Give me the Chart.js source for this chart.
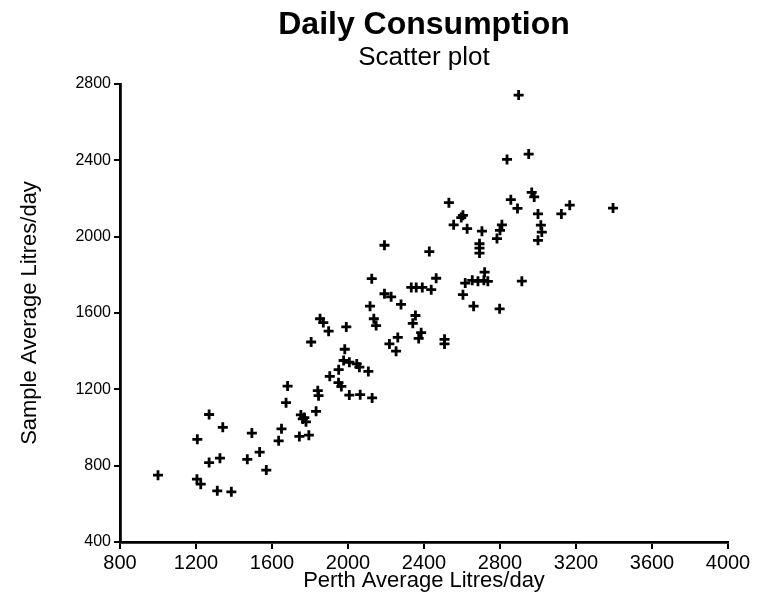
<!DOCTYPE html>
<html>
<head>
<meta charset="utf-8">
<script src="https://cdn.jsdelivr.net/npm/chart.js@4/dist/chart.umd.min.js"></script>
<style>
  html, body { margin: 0; padding: 0; background: #ffffff; }
  #wrap { width: 760px; height: 605px; }
</style>
</head>
<body>
<div id="wrap"><canvas id="c" width="760" height="605"></canvas></div>
<script>
const chartTitle = "Daily Consumption";
const chartSubtitle = "Scatter plot";
const xAxisTitle = "Perth Average Litres/day";
const yAxisTitle = "Sample Average Litres/day";

const xTickLabels = [800, 1200, 1600, 2000, 2400, 2800, 3200, 3600, 4000];
const yTickLabels = [400, 800, 1200, 1600, 2000, 2400, 2800];

const perthAverage = [
  1000,1207,1205,1225,1269,1269,1312,1326,1341,1386,
  1470,1494,1535,1570,1635,1650,1674,1682,1744,1794,
  1752,1770,1779,1762,1832,1841,1845,1806,1853,1870,
  1898,1904,1951,1950,1965,1983,1991,1977,2007,2046,
  2060,2107,2007,2064,2127,2116,2125,2136,2148,2192,
  2192,2227,2218,2253,2262,2279,2333,2359,2391,2438,
  2464,2355,2341,2385,2372,2428,2508,2508,2531,2556,
  2605,2596,2627,2605,2617,2654,2661,2684,2692,2692,
  2692,2705,2715,2719,2736,2784,2800,2810,2798,2837,
  2857,2892,2898,2915,2951,2967,2980,3000,3015,3020,
  3000,3123,3167,3395
];
const sampleAverage = [
  750,938,729,703,1068,816,668,839,1001,663,
  833,971,871,777,930,993,1130,1217,953,960,
  1066,1052,1030,1045,1085,1193,1167,1448,1570,1550,
  1505,1268,1303,1235,1215,1410,1527,1351,1342,1333,
  1316,1294,1170,1172,1155,1636,1780,1570,1534,1955,
  1701,1685,1438,1400,1472,1645,1734,1734,1734,1722,
  1782,1587,1546,1497,1467,1922,1462,1438,2178,2062,
  2112,2100,2042,1696,1757,1771,1636,1766,1963,1940,
  1914,2029,1771,1814,1766,1990,2033,2062,1622,2405,
  2194,2148,2742,1767,2433,2232,2208,2119,2060,2024,
  1981,2119,2165,2150
];

const points = perthAverage.map((x, i) => ({ x: x, y: sampleAverage[i] }));
const FONT = "'Liberation Sans', Arial, Helvetica, sans-serif";

new Chart(document.getElementById('c'), {
  type: 'scatter',
  data: {
    datasets: [{
      label: 'Daily consumption',
      data: points,
      pointStyle: 'cross',
      pointRadius: 5,
      pointHoverRadius: 5,
      pointBorderWidth: 2.8,
      borderColor: '#000000',
      backgroundColor: '#000000'
    }]
  },
  options: {
    responsive: false,
    animation: false,
    devicePixelRatio: 1,
    layout: { padding: { left: 0, right: 32, top: 0, bottom: 0 } },
    plugins: {
      legend: { display: false },
      tooltip: { enabled: false },
      title: {
        display: true,
        text: chartTitle,
        fullSize: false,
        color: '#000',
        font: { family: FONT, size: 32, weight: 'bold', lineHeight: 1.2 },
        padding: { top: 6, bottom: 0 }
      },
      subtitle: {
        display: true,
        text: chartSubtitle,
        fullSize: false,
        color: '#000',
        font: { family: FONT, size: 26, weight: 'normal', lineHeight: 1.0 },
        padding: { top: 0, bottom: 13.6 }
      }
    },
    scales: {
      x: {
        type: 'linear',
        min: xTickLabels[0],
        max: xTickLabels[xTickLabels.length - 1],
        afterFit: (s) => { s.height = 63; },
        afterBuildTicks: (s) => { s.ticks = xTickLabels.map(v => ({ value: v })); },
        border: { display: true, color: '#000', width: 2.8 },
        grid: { drawOnChartArea: false, drawTicks: true, tickLength: 7, color: '#000', lineWidth: 2 },
        ticks: {
          color: '#000',
          padding: 2,
          maxRotation: 0,
          autoSkip: false,
          font: { family: FONT, size: 20 },
          callback: (v) => String(v)
        },
        title: {
          display: true,
          text: xAxisTitle,
          color: '#000',
          font: { family: FONT, size: 22, lineHeight: 1.2 },
          padding: { top: 0, bottom: 10.8 }
        }
      },
      y: {
        type: 'linear',
        min: yTickLabels[0],
        max: yTickLabels[yTickLabels.length - 1],
        afterFit: (s) => { s.width = 120; },
        afterBuildTicks: (s) => { s.ticks = yTickLabels.map(v => ({ value: v })); },
        border: { display: true, color: '#000', width: 2.8 },
        grid: { drawOnChartArea: false, drawTicks: true, tickLength: 6, color: '#000', lineWidth: 2 },
        ticks: {
          color: '#000',
          padding: 3,
          autoSkip: false,
          font: { family: FONT, size: 16 },
          callback: (v) => String(v)
        },
        title: {
          display: true,
          text: yAxisTitle,
          color: '#000',
          font: { family: FONT, size: 22, lineHeight: 1.2 },
          padding: { top: 16.8, bottom: 0 }
        }
      }
    }
  }
});
</script>
</body>
</html>
